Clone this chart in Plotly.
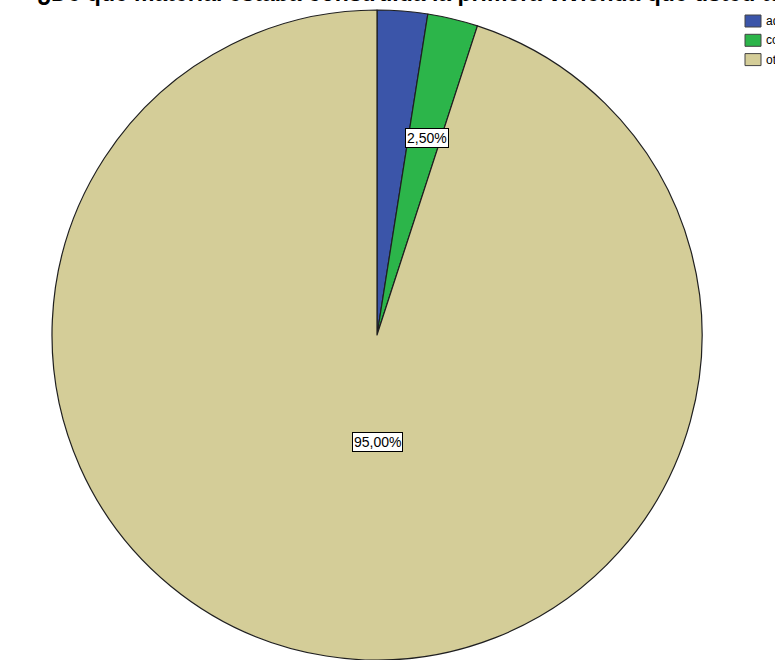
import plotly.graph_objects as go

categories = ["adobe", "concreto", "otro"]
values = [2.5, 2.5, 95.0]
colors = ["#3B55A9", "#2CB54A", "#D4CD98"]
label_texts = ["2,50%", "95,00%"]
title_text = "¿De qué material estaba construida la primera vivienda que usted tuvo?"

W, H = 775, 660
cx, cy, r = 377, 335, 325  # pixel geometry of pie

fig = go.Figure(go.Pie(
    labels=categories,
    values=values,
    sort=False,
    direction="clockwise",
    rotation=0,
    marker=dict(colors=colors, line=dict(color="#1f1f1f", width=1.2)),
    textinfo="none",
    hoverinfo="label+percent",
    showlegend=False,
    domain=dict(x=[(cx - r) / W, (cx + r) / W],
                y=[max(0, (H - cy - r) / H), min(1, (H - cy + r) / H)]),
))

lab_font = dict(family="Arial, Liberation Sans", size=14, color="black")
fig.add_annotation(x=427 / W, y=1 - 128 / H, xref="paper", yref="paper",
                   text=label_texts[0], showarrow=False, font=lab_font,
                   bgcolor="white", bordercolor="black", borderwidth=1, borderpad=1)
fig.add_annotation(x=377 / W, y=1 - 452 / H, xref="paper", yref="paper",
                   text=label_texts[1], showarrow=False, font=lab_font,
                   bgcolor="white", bordercolor="black", borderwidth=1, borderpad=1)

# title (cut off at the top edge, as in the reference)
fig.add_annotation(x=35 / W, y=1 - 8 / H, xref="paper", yref="paper",
                   xanchor="left", yanchor="bottom",
                   text="<b>" + title_text + "</b>", showarrow=False,
                   font=dict(family="Arial, Liberation Sans", size=23, color="black"))

# legend (cut off at the right edge, as in the reference)
for i, (cat, col) in enumerate(zip(categories, colors)):
    y0 = 15 + i * 19.3
    fig.add_shape(type="rect", xref="paper", yref="paper",
                  x0=745 / W, x1=761 / W, y0=1 - y0 / H, y1=1 - (y0 + 12) / H,
                  fillcolor=col, line=dict(color="#444444", width=1))
    fig.add_annotation(x=764 / W, y=1 - (y0 + 6) / H, xref="paper", yref="paper",
                       xanchor="left", yanchor="middle", text=cat, showarrow=False,
                       font=dict(family="Arial, Liberation Sans", size=12, color="black"))

fig.update_layout(
    width=W, height=H,
    margin=dict(l=0, r=0, t=0, b=0, autoexpand=False),
    paper_bgcolor="white",
    plot_bgcolor="white",
    showlegend=False,
)

fig.write_html("out.html", config={"displayModeBar": False},
               post_script="document.body.style.margin='0';")
